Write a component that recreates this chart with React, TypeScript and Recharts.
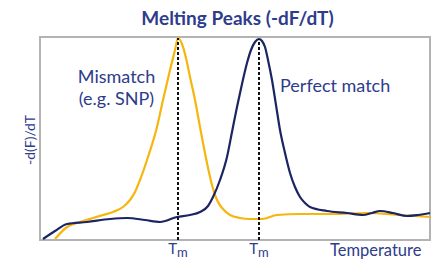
import React from 'react';
import { LineChart, Line, XAxis, YAxis, ReferenceLine, ReferenceArea } from 'recharts';

// Temperature axis (arbitrary units) and -dF/dT values (arbitrary units)
const perfectT = [3, 15, 27, 47, 70, 87, 105, 120, 137, 150, 160, 168, 173, 180, 187, 192, 197, 202, 207, 211, 215, 219, 222, 225, 228, 232, 236, 240, 245, 250, 255, 260, 265, 270, 287, 307, 323, 332, 340, 353, 367, 378, 390];
const perfectV = [1, 9, 16, 18, 21, 22, 20, 18, 23, 25, 28, 34, 43, 60, 83, 108, 133, 156, 177, 190, 198, 201, 199, 193, 180, 160, 135, 110, 87, 67, 53, 43, 37, 33, 29, 27, 25, 27, 29, 27, 24, 25, 27];

const mismatchT = [15, 27, 40, 53, 63, 73, 83, 90, 95, 100, 108, 117, 123, 130, 135, 138, 142, 146, 150, 155, 160, 167, 172, 177, 183, 190, 200, 210, 222, 237, 260, 293, 327, 360, 390];
const mismatchV = [1, 13, 18, 22, 25, 28, 33, 40, 48, 60, 83, 113, 140, 170, 190, 202, 196, 182, 163, 140, 113, 77, 55, 40, 31, 25, 22, 21, 21, 25, 26, 26, 27, 25, 23];

const meltTemps = [138, 219];
const meltPeaks = [202, 201];

const perfectData = perfectT.map((t, i) => ({ t, v: perfectV[i] }));
const mismatchData = mismatchT.map((t, i) => ({ t, v: mismatchV[i] }));

const textBlue = '#2d3c8c';
const lineBlue = '#1c2563';
const yellow = '#f6b60e';
const font = 'Lato, "Open Sans", sans-serif';

const TmTick = (props: any) => {
  const { x } = props;
  return (
    <text x={x} y={254} textAnchor="middle" fill={textBlue} fontFamily={font} fontSize={15}>
      <tspan>T</tspan>
      <tspan dy={3} fontSize={13}>m</tspan>
    </text>
  );
};

export default function App() {
  return (
    <div style={{ position: 'absolute', left: 0, top: 0, width: 432, height: 260, fontFamily: font, color: textBlue }}>
      <LineChart width={432} height={260} margin={{ top: 37, right: 2, bottom: 0, left: 40 }}>
        <XAxis
          dataKey="t"
          type="number"
          domain={[0, 390]}
          ticks={meltTemps}
          tick={<TmTick />}
          tickLine={false}
          axisLine={false}
          height={20}
          allowDuplicatedCategory={false}
        />
        <YAxis type="number" domain={[0, 203]} hide />
        <ReferenceArea x1={0} x2={390} y1={0} y2={203} fill="none" stroke="#b3b3b3" strokeWidth={2} ifOverflow="visible" />
        <Line data={mismatchData} dataKey="v" type="monotone" stroke={yellow} strokeWidth={2.2} dot={false} isAnimationActive={false} />
        <Line data={perfectData} dataKey="v" type="monotone" stroke={lineBlue} strokeWidth={2.2} dot={false} isAnimationActive={false} />
        {meltTemps.map((t, i) => (
          <ReferenceLine
            key={t}
            segment={[{ x: t, y: 0 }, { x: t, y: meltPeaks[i] }]}
            stroke="#111"
            strokeWidth={2}
            strokeDasharray="3 2"
          />
        ))}
      </LineChart>
      <div style={{ position: 'absolute', left: 0, width: 475, top: 7, textAlign: 'center', fontWeight: 700, fontSize: 19, lineHeight: '22px', whiteSpace: 'nowrap' }}>
        Melting Peaks (-dF/dT)
      </div>
      <div style={{ position: 'absolute', left: 29, top: 140, transform: 'translate(-50%, -50%) rotate(-90deg)', fontSize: 14, whiteSpace: 'nowrap' }}>
        -d(F)/dT
      </div>
      <div style={{ position: 'absolute', left: 60, width: 113, top: 65, textAlign: 'center', fontSize: 18, lineHeight: '22px' }}>
        Mismatch<br />(e.g. SNP)
      </div>
      <div style={{ position: 'absolute', left: 280, top: 74, fontSize: 18, lineHeight: '22px', whiteSpace: 'nowrap' }}>
        Perfect match
      </div>
      <div style={{ position: 'absolute', left: 330, top: 241, fontSize: 16.5, lineHeight: '18px', whiteSpace: 'nowrap' }}>
        Temperature
      </div>
    </div>
  );
}
